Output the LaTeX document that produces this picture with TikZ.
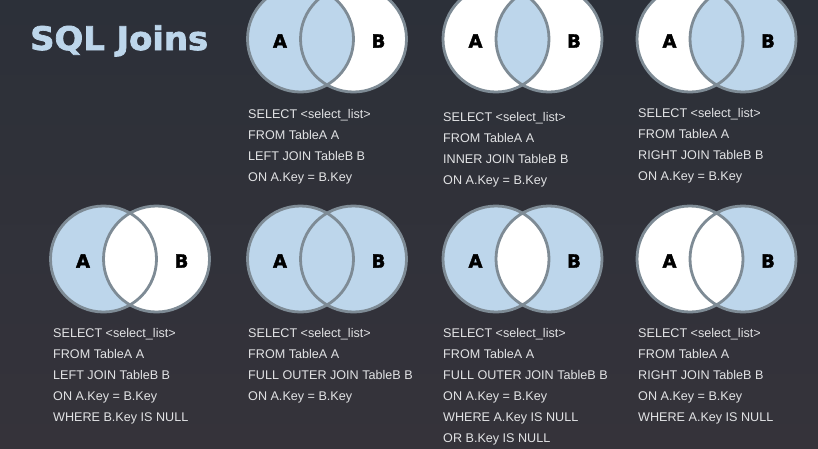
\documentclass[tikz,border=0pt]{standalone}
\usepackage{fontspec}
\setmainfont{Liberation Sans}
\newfontfamily\heavyfont{DejaVu Sans}[BoldFeatures={FakeBold=2.2}]
\usepackage{tikz}

\definecolor{slate}{HTML}{2C3039}
\definecolor{slatelow}{HTML}{35333A}
\definecolor{joinblue}{HTML}{BDD6EB}
\definecolor{rimgray}{HTML}{7E8B95}
\definecolor{sqlgray}{HTML}{E2E3E5}

\tikzset{
  rim/.style={draw=rimgray, line width=2.8pt},
  setlabel/.style={inner sep=0pt, font=\heavyfont\bfseries\fontsize{18}{18}\selectfont, text=black},
  sql/.style={anchor=base west, inner sep=0pt, text=sqlgray, font=\fontsize{12.6}{15}\selectfont}
}

\begin{document}
\begin{tikzpicture}[x=1pt,y=-1pt]
\useasboundingbox (0,0) rectangle (818,448);
\shade[top color=slate, bottom color=slatelow] (0,0) rectangle (818,448);
\clip (0,0) rectangle (818,448);

\node[anchor=base west, inner sep=0pt, text=joinblue, xscale=1.04, font=\heavyfont\bfseries\fontsize{32.5}{32}\selectfont] (title) at (30,50) {SQL Joins};

% the seven diagrams: centre of A, fill of A only / A and B / B only
\foreach \cx/\cy/\fa/\fm/\fb [count=\k] in {300.5/39/joinblue/joinblue/white, 496/39/white/joinblue/white, 690/39/white/joinblue/joinblue, 103.5/259/joinblue/white/white, 300.5/259/joinblue/joinblue/joinblue, 496/259/joinblue/white/joinblue, 690/259/white/white/joinblue}
{
  \fill[fill=\fa] (\cx,\cy) circle (53);
  \fill[fill=\fb] (\cx+53,\cy) circle (53);
  \begin{scope}
    \clip (\cx,\cy) circle (53);
    \fill[fill=\fm] (\cx+53,\cy) circle (53);
  \end{scope}
  \draw[rim] (\cx,\cy) circle (53) (\cx+53,\cy) circle (53);
  \node[setlabel] (A\k) at (\cx-20.5,\cy+2) {A};
  \node[setlabel] (B\k) at (\cx+78,\cy+2) {B};
}

\foreach \t [count=\i] in {SELECT <select\_list>, FROM TableA A, LEFT JOIN TableB B, ON A.Key = B.Key}
  \node[sql] (left-\i) at (248,118+21*\i-21) {\t};

\foreach \t [count=\i] in {SELECT <select\_list>, FROM TableA A, INNER JOIN TableB B, ON A.Key = B.Key}
  \node[sql] (inner-\i) at (443,121+21*\i-21) {\t};

\foreach \t [count=\i] in {SELECT <select\_list>, FROM TableA A, RIGHT JOIN TableB B, ON A.Key = B.Key}
  \node[sql] (right-\i) at (638,117.5+21*\i-21) {\t};

\foreach \t [count=\i] in {SELECT <select\_list>, FROM TableA A, LEFT JOIN TableB B, ON A.Key = B.Key, WHERE B.Key IS NULL}
  \node[sql] (leftonly-\i) at (53,337+21*\i-21) {\t};

\foreach \t [count=\i] in {SELECT <select\_list>, FROM TableA A, FULL OUTER JOIN TableB B, ON A.Key = B.Key}
  \node[sql] (full-\i) at (248,337+21*\i-21) {\t};

\foreach \t [count=\i] in {SELECT <select\_list>, FROM TableA A, FULL OUTER JOIN TableB B, ON A.Key = B.Key, WHERE A.Key IS NULL, OR B.Key IS NULL}
  \node[sql] (fullonly-\i) at (443,337+21*\i-21) {\t};

\foreach \t [count=\i] in {SELECT <select\_list>, FROM TableA A, RIGHT JOIN TableB B, ON A.Key = B.Key, WHERE A.Key IS NULL}
  \node[sql] (rightonly-\i) at (638,337+21*\i-21) {\t};

\end{tikzpicture}
\end{document}
